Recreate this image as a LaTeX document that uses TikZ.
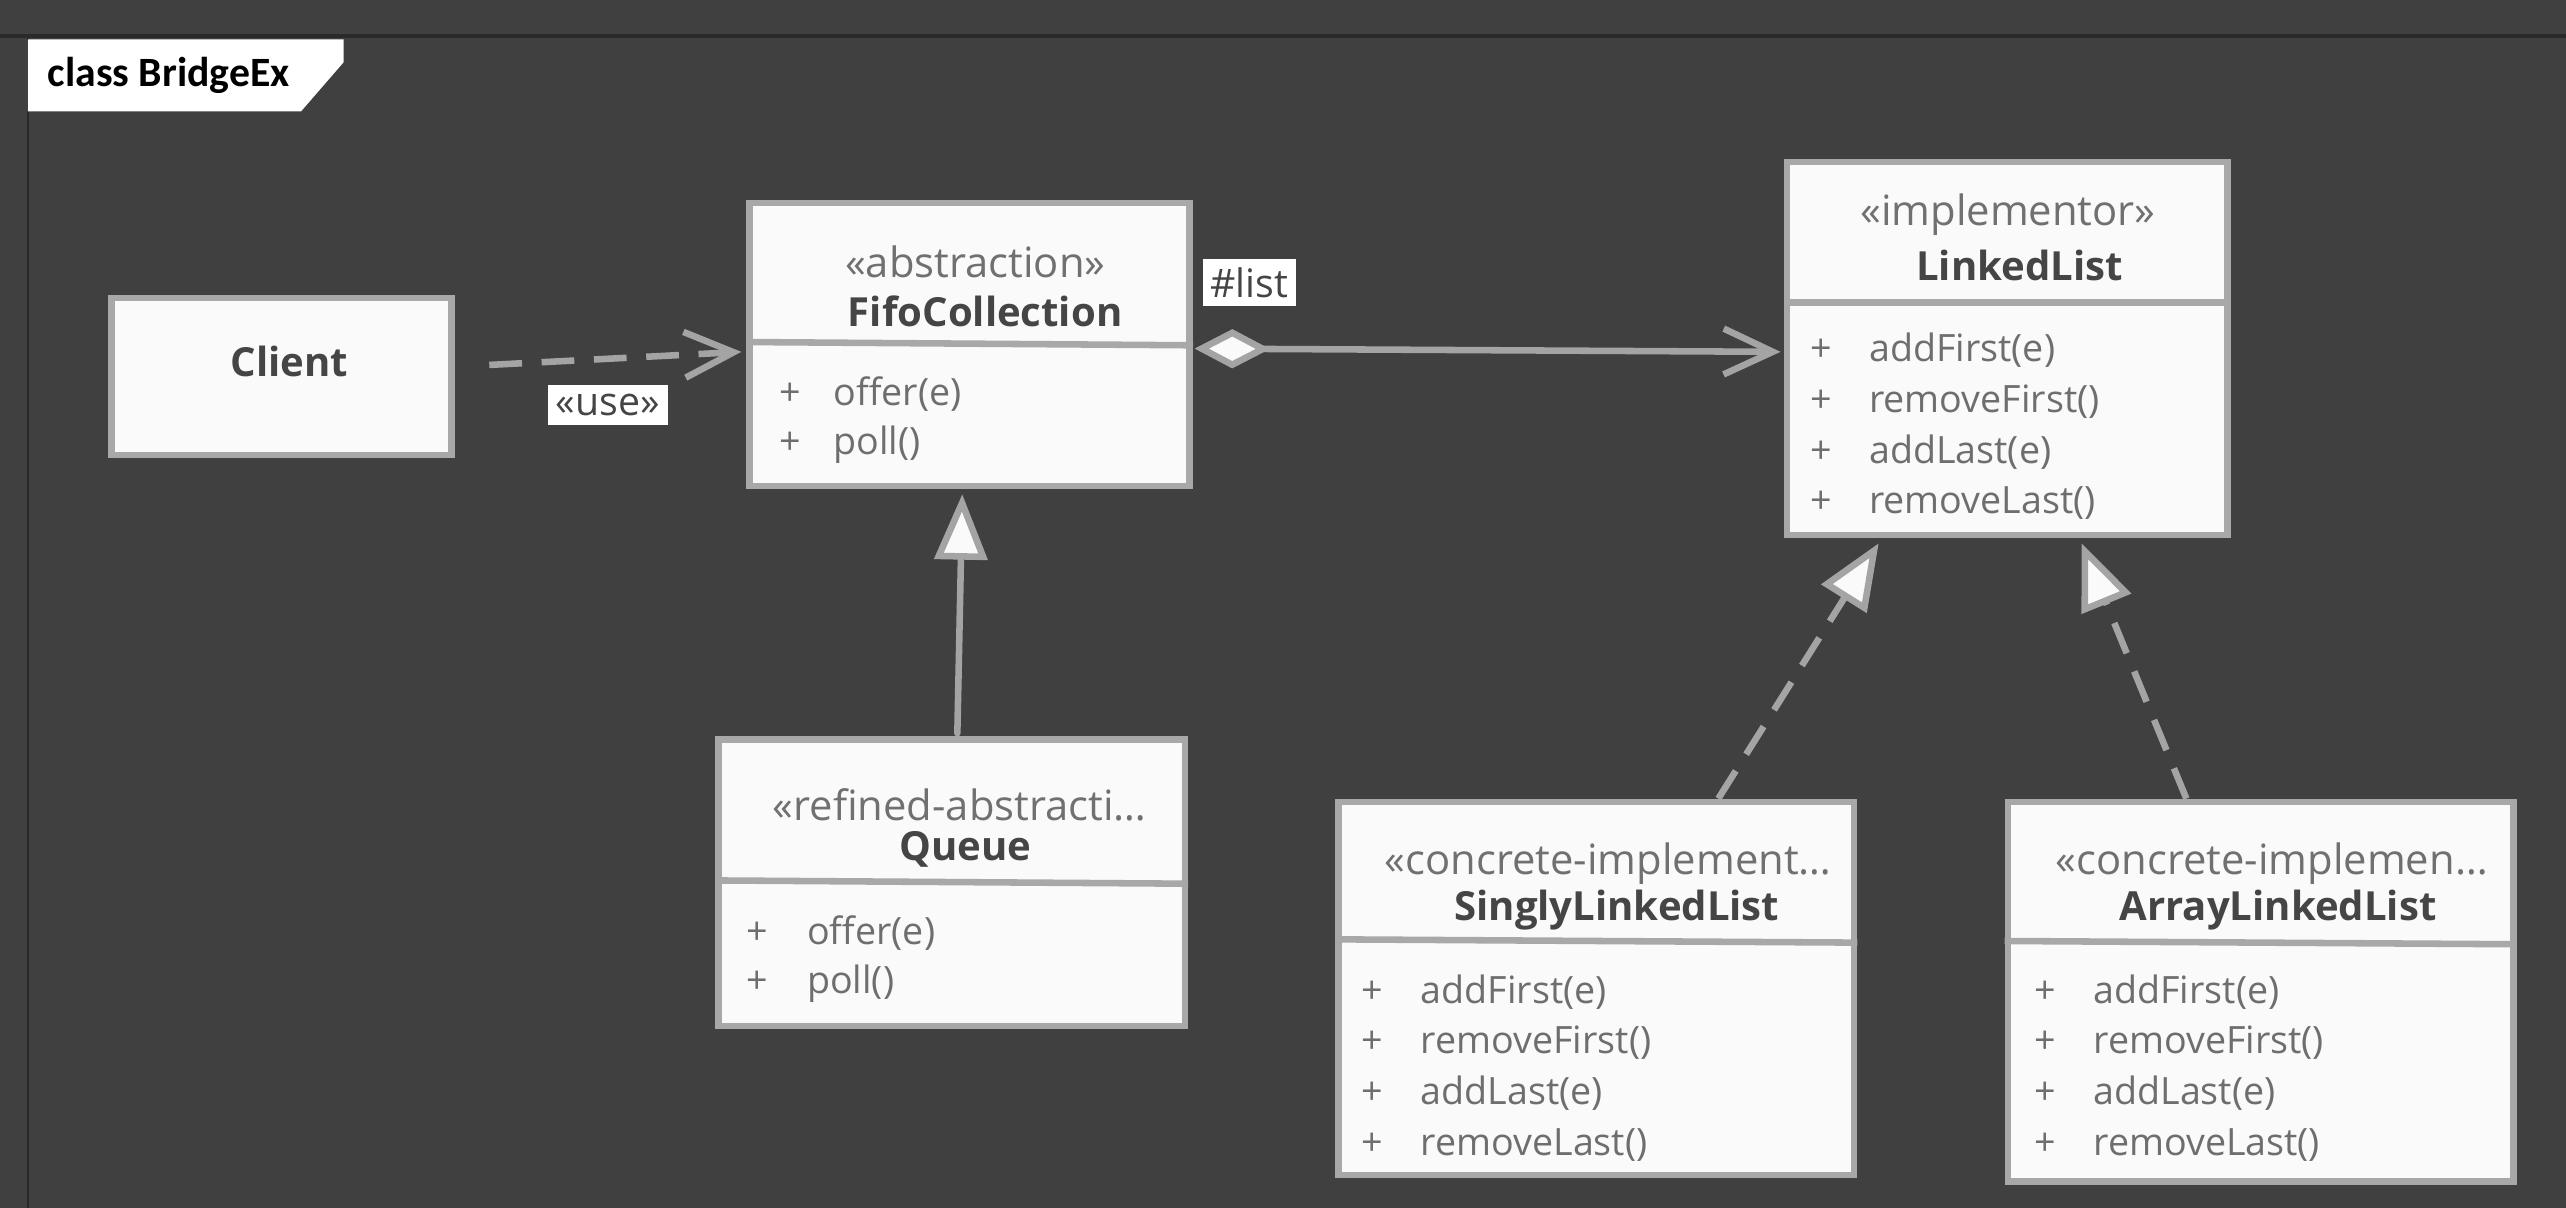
\documentclass[tikz,border=0pt]{standalone}
\usepackage{fontspec}
\setmainfont{Open Sans}
\newfontfamily\tabfont{Carlito}
\usetikzlibrary{arrows.meta,calc}
\definecolor{bgc}{HTML}{404040}
\definecolor{framec}{HTML}{2A2A2A}
\definecolor{boxfill}{HTML}{FAFAFA}
\definecolor{boxline}{HTML}{A8A8A8}
\definecolor{linec}{HTML}{A4A4A4}
\definecolor{stc}{HTML}{707070}
\definecolor{namec}{HTML}{454545}
\definecolor{memc}{HTML}{6E6E6E}
\tikzset{
  cls/.style={draw=boxline, fill=boxfill, line width=4pt, rectangle, inner sep=0pt},
  divider/.style={draw=boxline, line width=4pt},
  stereo/.style={font=\fontsize{25.5}{30}\selectfont, text=stc, inner sep=0pt},
  cname/.style={font=\fontsize{24.5}{29}\selectfont\bfseries, text=namec, inner sep=0pt},
  member/.style={font=\fontsize{23}{27}\selectfont, text=memc, inner sep=0pt, anchor=west, text height=17pt, text depth=5pt},
  conn/.style={draw=linec, line width=4pt, line cap=round, line join=round},
  dashedconn/.style={conn, line cap=butt, dash pattern=on 20pt off 12pt},
  lbl/.style={fill=white, text=namec, font=\fontsize{24}{28}\selectfont, inner sep=0pt},
  openhead/.style={-{Straight Barb[length=30pt,width=28pt]}},
  genhead/.style={-{Triangle[length=40pt,width=32pt,fill=boxfill]}},
}
\begin{document}
\begin{tikzpicture}[x=1pt,y=-1pt]
\fill[bgc] (0,0) rectangle (1568,738);
\useasboundingbox (0,0) rectangle (1568,738);
% frame
\draw[framec, line width=2pt] (0,22) -- (1568,22);
\draw[framec, line width=1.5pt] (17,22) -- (17,738);
\fill[white] (17,24) -- (210,24) -- (210,38) -- (184,68) -- (17,68) -- cycle;
\node[font=\tabfont\fontsize{25.5}{30}\selectfont\bfseries, text=black, anchor=west, inner sep=0pt] (tabtxt) at (29,46) {class BridgeEx};

% classes
\node[cls, minimum width=208pt, minimum height=96pt] (client) at (172,230) {};
\node[cname] (clientname) at (177,221) {Client};

\node[cls, minimum width=269pt, minimum height=173pt] (fifo) at (592.5,210.5) {};
\draw[divider] ($(fifo.north west)+(0,87)$) -- ($(fifo.north east)+(0,89)$);
\node[stereo] (fifost) at (596,160) {«abstraction»};
\node[cname] (fifoname) at (602,190) {FifoCollection};
\foreach \t [count=\i] in {offer(e),poll()}
  \node[member] (fifo-m\i) at (476,{212+30*\i}) {\makebox[33pt][l]{+}\t};

\node[cls, minimum width=269pt, minimum height=228pt] (ll) at (1226.5,213) {};
\draw[divider] ($(ll.north west)+(0,88)$) -- ($(ll.north east)+(0,88)$);
\node[stereo] (llst) at (1227,131) {«implementor»};
\node[cname] (llname) at (1234,162) {LinkedList};
\foreach \t [count=\i] in {addFirst(e),removeFirst(),addLast(e),removeLast()}
  \node[member] (ll-m\i) at (1106,{184+31*\i}) {\makebox[36pt][l]{+}\t};

\node[cls, minimum width=285pt, minimum height=175pt] (queue) at (581.5,539.5) {};
\draw[divider] ($(queue.north west)+(0,88)$) -- ($(queue.north east)+(0,90)$);
\node[stereo, anchor=west] (queuest) at (472,492) {«refined-abstracti…};
\node[cname] (queuename) at (590,519) {Queue};
\foreach \t [count=\i] in {offer(e),poll()}
  \node[member] (queue-m\i) at (456,{541+30*\i}) {\makebox[37pt][l]{+}\t};

\node[cls, minimum width=315pt, minimum height=228pt] (sll) at (975.5,604) {};
\draw[divider] ($(sll.north west)+(0,86)$) -- ($(sll.north east)+(0,88)$);
\node[stereo, anchor=west] (sllst) at (846,528) {«concrete-implement…};
\node[cname] (sllname) at (988,556) {SinglyLinkedList};
\foreach \t [count=\i] in {addFirst(e),removeFirst(),addLast(e),removeLast()}
  \node[member] (sll-m\i) at (832,{576+31*\i}) {\makebox[36pt][l]{+}\t};

\node[cls, minimum width=309pt, minimum height=232pt] (al) at (1381.5,606) {};
\draw[divider] ($(al.north west)+(0,87)$) -- ($(al.north east)+(0,89)$);
\node[stereo, anchor=west] (alst) at (1256,528) {«concrete-implemen…};
\node[cname] (alname) at (1392,556) {ArrayLinkedList};
\foreach \t [count=\i] in {addFirst(e),removeFirst(),addLast(e),removeLast()}
  \node[member] (al-m\i) at (1243,{576+31*\i}) {\makebox[36pt][l]{+}\t};

% connectors
\draw[dashedconn, openhead] ($(client.east)+(21,-7)$) -- ($(fifo.west)+(-3,4.5)$);
\node[lbl, minimum width=73pt, minimum height=25pt] (use) at (371.5,247.5) {«use»};

\draw[conn, {Diamond[length=46pt,width=24pt,fill=boxfill]}-{Straight Barb[length=30pt,width=28pt]}]
  ($(fifo.east)+(1,2.5)$) -- ($(ll.west)+(-2,2)$);
\node[lbl, minimum width=57pt, minimum height=29pt] (listlbl) at (763.5,172.5) {\#list};

\draw[conn, genhead] ($(queue.north)+(3.5,-2)$) -- ($(fifo.south)+(-4.5,3)$);
\draw[dashedconn, genhead] ($(sll.north)+(74.5,0)$) -- ($(ll.south)+(-78.5,3)$);
\draw[dashedconn, genhead] ($(al.north)+(-45.5,0)$) -- ($(ll.south)+(45.5,3)$);
\end{tikzpicture}
\end{document}
